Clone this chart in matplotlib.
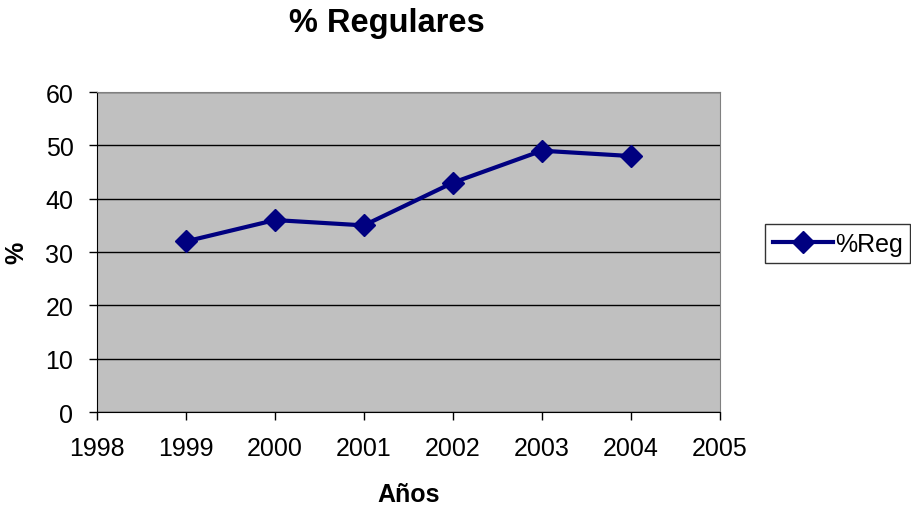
import matplotlib.pyplot as plt

plt.rcParams['font.family'] = ['Liberation Sans', 'DejaVu Sans']

years = [1999, 2000, 2001, 2002, 2003, 2004]
reg_pct = [32, 36, 35, 43, 49, 48]
xticks = [1998, 1999, 2000, 2001, 2002, 2003, 2004, 2005]
yticks = [0, 10, 20, 30, 40, 50, 60]

fig = plt.figure(figsize=(9.11, 5.10), dpi=100)
ax = fig.add_axes([0.1065, 0.19, 0.6835, 0.6276])
ax.set_facecolor('#c0c0c0')

ax.plot(years, reg_pct, color='#000080', lw=3, marker='D', ms=11,
        label='%Reg', zorder=3)

ax.set_xlim(1998, 2005)
ax.set_ylim(0, 60)
ax.set_xticks(xticks)
ax.set_yticks(yticks)
ax.yaxis.grid(True, color='black', lw=1)
ax.set_axisbelow(True)
ax.tick_params(labelsize=18, length=6, width=1, color='black', direction='out', pad=11)

for side in ['top', 'right']:
    ax.spines[side].set_color('#808080')
for side in ['left', 'bottom']:
    ax.spines[side].set_color('black')

ax.set_xlabel('Años', fontsize=18, fontweight='bold', labelpad=16)
ax.set_ylabel('%', fontsize=18, fontweight='bold', labelpad=12)
fig.suptitle('% Regulares', fontsize=23.5, fontweight='bold', x=0.425, y=0.985)

leg = fig.legend(loc='center left', bbox_to_anchor=(0.84, 0.52), fontsize=18,
                 frameon=True, fancybox=False, edgecolor='black',
                 handlelength=2.4, borderpad=0.3, handletextpad=0.1, borderaxespad=0)
leg.get_frame().set_linewidth(1)

fig.savefig('out.png', dpi=100)
